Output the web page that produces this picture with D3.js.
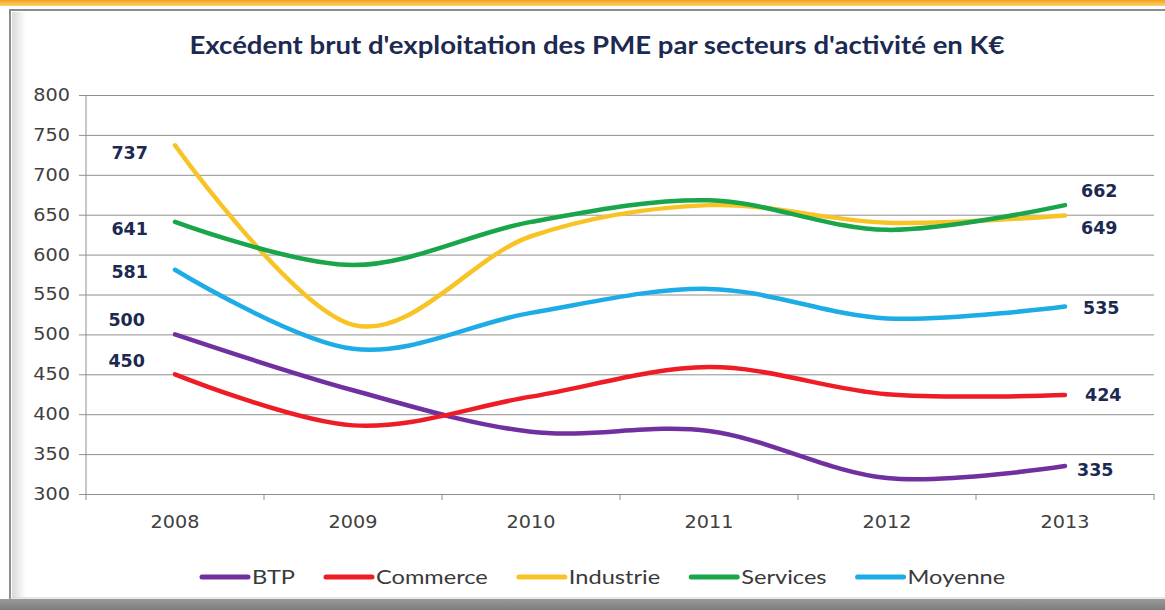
<!DOCTYPE html>
<html>
<head>
<meta charset="utf-8">
<script src="https://cdn.jsdelivr.net/npm/d3@7/dist/d3.min.js"></script>
<style>
  body { margin:0; background:#fff; }
  svg { display:block; }
</style>
</head>
<body>
<div id="chart"></div>
<script>
// data
var years = ['2008','2009','2010','2011','2012','2013'];
var seriesNames = ['BTP','Commerce','Industrie','Services','Moyenne'];
var btp       = [500, 430, 378, 379, 320, 335];
var commerce  = [450, 386, 422, 459, 425, 424];
var industrie = [737, 512, 623, 662, 640, 649];
var services  = [641, 587, 641, 668, 631, 662];
var moyenne   = [581, 482, 527, 557, 520, 535];
var yTicks = [300, 350, 400, 450, 500, 550, 600, 650, 700, 750, 800];
var title = "Excédent brut d'exploitation des PME par secteurs d'activité en K€";

var colors = ['#7030a0','#ee1c25','#f7c325','#19a54a','#1eace6'];
// pixel nudges for the value labels (first point, last point)
var nudgeFirst = [-15, -13, 8, 7, 2];
var nudgeLast  = [4, 0, 12, -14, 1];
var shiftLast  = [0, 8, 4, 4, 6];

var allValues = [btp, commerce, industrie, services, moyenne];
var W = 1165, H = 610;
var m = {left:86, right:11, top:95, bottom:116};

var svg = d3.select('#chart').append('svg').attr('width', W).attr('height', H);

// frame
var defs = svg.append('defs');
var gTop = defs.append('linearGradient').attr('id','topg').attr('x1',0).attr('x2',0).attr('y1',0).attr('y2',1);
gTop.append('stop').attr('offset','0%').attr('stop-color','#f3a21f');
gTop.append('stop').attr('offset','100%').attr('stop-color','#fbd36a');
var gLeft = defs.append('linearGradient').attr('id','leftg');
gLeft.append('stop').attr('offset','0%').attr('stop-color','#d9d9d9');
gLeft.append('stop').attr('offset','100%').attr('stop-color','#ffffff');
var gBot = defs.append('linearGradient').attr('id','botg').attr('x1',0).attr('x2',0).attr('y1',0).attr('y2',1);
gBot.append('stop').attr('offset','0%').attr('stop-color','#9a9a9a');
gBot.append('stop').attr('offset','100%').attr('stop-color','#7c7c7c');

svg.append('rect').attr('x',0).attr('y',0).attr('width',W).attr('height',6).attr('fill','url(#topg)');
svg.append('rect').attr('x',12).attr('y',12).attr('width',14).attr('height',586).attr('fill','url(#leftg)');
svg.append('line').attr('x1',9).attr('x2',W).attr('y1',10).attr('y2',10).attr('stroke','#8c8c8c').attr('stroke-width',2);
svg.append('line').attr('x1',10).attr('x2',10).attr('y1',10).attr('y2',H).attr('stroke','#8c8c8c').attr('stroke-width',2);
svg.append('rect').attr('x',0).attr('y',599).attr('width',W).attr('height',11).attr('fill','url(#botg)');
svg.append('line').attr('x1',10).attr('x2',W).attr('y1',598).attr('y2',598).attr('stroke','#d0d0d0');

var x = d3.scaleBand().domain(years).range([m.left, W - m.right]);
var y = d3.scaleLinear().domain([300, 800]).range([H - m.bottom, m.top]);

function stretch(sel, k) {
  sel.each(function(){
    var len = this.getComputedTextLength();
    d3.select(this).attr('textLength', len * k).attr('lengthAdjust','spacingAndGlyphs');
  });
}

// grid + y axis
var yAxis = d3.axisLeft(y).tickValues(yTicks).tickSize(-(W - m.right - m.left)).tickSizeOuter(0).tickPadding(16);
var gy = svg.append('g').attr('transform','translate(' + m.left + ',0)').call(yAxis);
gy.select('.domain').remove();
gy.selectAll('.tick line').attr('stroke','#8f8f8f').attr('x1', -7);
gy.selectAll('.tick text').attr('fill','#404040').style('font-family','DejaVu Sans').style('font-size','17px').call(stretch, 1.13);
svg.append('line').attr('x1',m.left).attr('x2',m.left).attr('y1',y(800)).attr('y2',y(300) + 6).attr('stroke','#8f8f8f');

// x axis
var gx = svg.append('g').attr('transform','translate(0,' + y(300) + ')')
  .call(d3.axisBottom(x).tickSize(0).tickPadding(22));
gx.select('.domain').attr('stroke','#8f8f8f');
gx.selectAll('.tick text').attr('fill','#404040').style('font-family','DejaVu Sans').style('font-size','17px').call(stretch, 1.13);
var bounds = years.map(function(d){ return x(d); }).concat([x(years[years.length-1]) + x.bandwidth()]);
svg.append('g').selectAll('line').data(bounds.slice(1)).enter().append('line')
  .attr('x1', function(d){ return d; }).attr('x2', function(d){ return d; })
  .attr('y1', y(300)).attr('y2', y(300) + 6).attr('stroke','#8f8f8f');

// lines
var line = d3.line()
  .x(function(d, i){ return x(years[i]) + x.bandwidth() / 2; })
  .y(function(d){ return y(d); })
  .curve(d3.curveCardinal.tension(0));

var order = [0, 1, 2, 4, 3];
svg.append('g').selectAll('path').data(order).enter().append('path')
  .attr('d', function(s){ return line(allValues[s]); })
  .attr('fill','none')
  .attr('stroke', function(s){ return colors[s]; })
  .attr('stroke-width', 4.5)
  .attr('stroke-linecap','round');

// value labels
var lab = svg.append('g').style('font-family','DejaVu Sans').style('font-weight','bold').style('font-size','17px').attr('fill','#1c2a52');
allValues.forEach(function(vals, s){
  var first = vals[0], last = vals[vals.length - 1];
  lab.append('text').attr('x', x(years[0]) + x.bandwidth()/2 - 27 - (s < 2 ? 3 : 0))
    .attr('y', y(first) + nudgeFirst[s]).attr('dy','0.36em').attr('text-anchor','end').text(first).call(stretch, 1.03);
  lab.append('text').attr('x', x(years[years.length-1]) + x.bandwidth()/2 + 12 + shiftLast[s])
    .attr('y', y(last) + nudgeLast[s]).attr('dy','0.36em').text(last).call(stretch, 1.03);
});

// title
svg.append('text').attr('x', 597).attr('y', 54).attr('text-anchor','middle')
  .style('font-family','Lato').style('font-weight','bold').style('font-size','24px')
  .attr('fill','#1c2a52').text(title)
  .attr('textLength', 815).attr('lengthAdjust','spacingAndGlyphs');

// legend
var leg = svg.append('g');
var lx = 200;
seriesNames.forEach(function(name, s){
  leg.append('line').attr('x1', lx + 2).attr('x2', lx + 48).attr('y1', 577).attr('y2', 577)
    .attr('stroke', colors[s]).attr('stroke-width', 5).attr('stroke-linecap','round');
  var t = leg.append('text').attr('x', lx + 52).attr('y', 577).attr('dy','0.35em')
    .style('font-family','Lato').style('font-size','20px').attr('fill','#3a3a3a').text(name)
    .call(stretch, 1.18);
  lx += 52 + (+t.attr('textLength')) + 29;
});
</script>
</body>
</html>
